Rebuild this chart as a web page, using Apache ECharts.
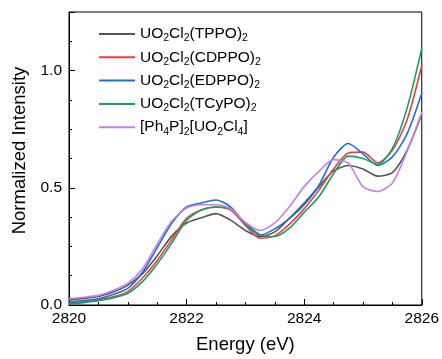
<!DOCTYPE html>
<html>
<head>
<meta charset="utf-8">
<script src="https://cdn.jsdelivr.net/npm/echarts@6/dist/echarts.min.js"></script>
<style>
html,body{margin:0;padding:0;background:#fff;}
#chart{width:442px;height:359px;}
</style>
</head>
<body>
<div id="chart"></div>
<script>
const energies = [2820,2820.25,2820.5,2820.75,2821,2821.25,2821.5,2821.75,2822,2822.25,2822.5,2822.75,2823,2823.25,2823.5,2823.75,2824,2824.25,2824.5,2824.75,2825,2825.25,2825.5,2825.75,2826];

const seriesNames = ['UO2Cl2(TPPO)2','UO2Cl2(CDPPO)2','UO2Cl2(EDPPO)2','UO2Cl2(TCyPO)2','[Ph4P]2[UO2Cl4]'];
const legendRich = ['UO{s|2}Cl{s|2}(TPPO){s|2}','UO{s|2}Cl{s|2}(CDPPO){s|2}','UO{s|2}Cl{s|2}(EDPPO){s|2}','UO{s|2}Cl{s|2}(TCyPO){s|2}','[Ph{s|4}P]{s|2}[UO{s|2}Cl{s|4}]'];

const tppo  = [0.022,0.028,0.036,0.055,0.085,0.134,0.21,0.295,0.35,0.372,0.39,0.362,0.318,0.292,0.312,0.37,0.435,0.505,0.572,0.595,0.58,0.55,0.565,0.66,0.815];
const cdppo = [0.008,0.014,0.022,0.035,0.057,0.115,0.19,0.28,0.37,0.405,0.418,0.405,0.34,0.285,0.295,0.345,0.41,0.49,0.58,0.648,0.652,0.607,0.66,0.79,1.022];
const edppo = [0.013,0.019,0.027,0.045,0.071,0.14,0.245,0.35,0.418,0.435,0.448,0.418,0.345,0.298,0.325,0.37,0.428,0.51,0.63,0.689,0.645,0.595,0.632,0.73,0.903];
const tcypo = [0.004,0.01,0.018,0.03,0.05,0.1,0.175,0.265,0.362,0.405,0.418,0.41,0.35,0.3,0.292,0.328,0.395,0.462,0.56,0.635,0.625,0.6,0.668,0.84,1.095];
const ph4p  = [0.027,0.033,0.041,0.062,0.092,0.155,0.26,0.358,0.414,0.428,0.428,0.41,0.352,0.318,0.35,0.42,0.505,0.57,0.62,0.605,0.505,0.484,0.52,0.655,0.822];

const allValues = [tppo,cdppo,edppo,tcypo,ph4p];
const colors = ['#555555','#f03c3c','#1a6fe0','#16a05c','#c77fe8'];

const FONT = '"Liberation Sans", Arial, sans-serif';

const chart = echarts.init(document.getElementById('chart'), null, {renderer:'canvas'});
chart.setOption({
  animation:false,
  backgroundColor:'#fff',
  grid:{left:69,right:18,top:12,bottom:49,show:true,borderColor:'#000',borderWidth:1,containLabel:false},
  legend:{
    orient:'vertical',left:94,top:19,itemWidth:36,itemHeight:2,itemGap:3.3,icon:'rect',
    data:seriesNames,
    formatter:function(name){return legendRich[seriesNames.indexOf(name)];},
    textStyle:{fontFamily:FONT,fontSize:15.5,color:'#000',lineHeight:20,
      rich:{s:{fontFamily:FONT,fontSize:10.5,lineHeight:10,verticalAlign:'bottom',color:'#000'}}}
  },
  xAxis:{
    type:'value',min:2820,max:2826,interval:2,
    name:'Energy (eV)',nameLocation:'middle',nameGap:30,
    nameTextStyle:{fontFamily:FONT,fontSize:18.5,color:'#000'},
    axisLine:{lineStyle:{color:'#000',width:1}},
    axisTick:{show:true,inside:true,length:6,lineStyle:{color:'#000',width:1}},
    minorTick:{show:true,splitNumber:4,length:3,lineStyle:{color:'#000',width:1}},
    axisLabel:{fontFamily:FONT,fontSize:15.5,color:'#000',margin:6,
      formatter:function(v){return String(v);}},
    splitLine:{show:false}
  },
  yAxis:{
    type:'value',min:0,max:1.25,interval:0.5,
    name:'Normalized Intensity',nameLocation:'middle',nameGap:36,
    nameTextStyle:{fontFamily:FONT,fontSize:18.5,color:'#000',padding:[0,0,0,16]},
    axisLine:{show:true,lineStyle:{color:'#000',width:1}},
    axisTick:{show:true,inside:true,length:6,lineStyle:{color:'#000',width:1}},
    minorTick:{show:true,splitNumber:4,length:3,lineStyle:{color:'#000',width:1}},
    axisLabel:{fontFamily:FONT,fontSize:15.5,color:'#000',margin:7,showMaxLabel:false,
      formatter:function(v){return v.toFixed(1);}},
    splitLine:{show:false}
  },
  series: seriesNames.map(function(n,i){
    return {
      name:n,type:'line',showSymbol:false,symbol:'none',smooth:0.25,
      lineStyle:{color:colors[i],width:1.6},itemStyle:{color:colors[i]},
      data: energies.map(function(e,j){return [e, allValues[i][j]];})
    };
  })
});
</script>
</body>
</html>
